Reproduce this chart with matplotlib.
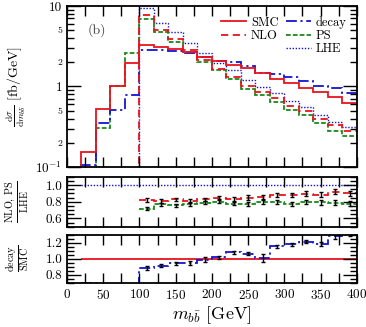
import numpy as np
import matplotlib
matplotlib.use("Agg")
import matplotlib.pyplot as plt
from matplotlib.ticker import MultipleLocator, FixedLocator, FixedFormatter, NullFormatter
from matplotlib.lines import Line2D

plt.rcParams['font.family'] = 'serif'
plt.rcParams['font.serif'] = ['cmr10', 'DejaVu Serif']
plt.rcParams['mathtext.fontset'] = 'cm'
plt.rcParams['axes.formatter.use_mathtext'] = True
plt.rcParams['axes.unicode_minus'] = False

# 20 GeV bins in m_bb
edges = np.arange(0, 401, 20)
smc = [0, 0.154, 0.53, 1.0, 1.97, 3.25, 3.1, 2.9, 2.7, 2.35, 2.05, 1.85, 1.68, 1.47, 1.25, 1.1, 0.97, 0.86, 0.74, 0.63]
decay = [0, 0.107, 0.353, 0.51, 0.78, 2.88, 2.84, 2.73, 2.57, 2.33, 2.09, 2.0, 1.79, 1.48, 1.45, 1.30, 1.18, 1.02, 0.95, 0.83]
nlo = [0, 0, 0, 0, 0, 7.8, 5.02, 3.90, 2.84, 2.13, 1.67, 1.33, 1.02, 0.85, 0.72, 0.58, 0.50, 0.39, 0.33, 0.28]
ps = [0, 0, 0.306, 1.0, 2.58, 6.8, 4.77, 3.55, 2.71, 2.03, 1.58, 1.24, 0.93, 0.79, 0.65, 0.51, 0.445, 0.35, 0.284, 0.24]
lhe = [0, 0, 0, 0, 0, 9.5, 6.2, 4.7, 3.5, 2.57, 1.97, 1.6, 1.2, 0.99, 0.82, 0.66, 0.56, 0.44, 0.36, 0.31]

# statistical errors on the ratios, bins from 100 GeV up
err_nlo = [0.02, 0.02, 0.02, 0.025, 0.02, 0.02, 0.025, 0.025, 0.025, 0.025, 0.025, 0.03, 0.03, 0.03, 0.03]
err_ps = [0.015, 0.02, 0.02, 0.025, 0.02, 0.02, 0.02, 0.025, 0.025, 0.025, 0.025, 0.025, 0.03, 0.03, 0.03]
err_decay = [0.03, 0.02, 0.025, 0.025, 0.035, 0.02, 0.02, 0.02, 0.05, 0.02, 0.02, 0.02, 0.025, 0.03, 0.03]

smc = np.array(smc); decay = np.array(decay); nlo = np.array(nlo)
ps = np.array(ps); lhe = np.array(lhe)
centers = 0.5 * (edges[:-1] + edges[1:])
i100 = 5  # first bin above 100 GeV

RED = '#e8141c'
BLUE = '#1414d2'
GREEN = '#1a8a1a'

sty = {
    'smc': dict(color=RED, lw=1.3, ls='-'),
    'nlo': dict(color=RED, lw=1.3, ls=(0, (4, 2.5))),
    'decay': dict(color=BLUE, lw=1.3, ls=(0, (6, 2, 1.2, 2))),
    'ps': dict(color=GREEN, lw=1.3, ls=(0, (2.6, 1.2))),
    'lhe': dict(color=BLUE, lw=1.0, ls=(0, (1, 1.2))),
}


def pos(v):
    # empty bins are pushed far below the axis range
    return np.where(v > 0, v, 1e-5)


fig = plt.figure(figsize=(3.66, 3.27), dpi=100)
L, W = 0.183, 0.792
ax1 = fig.add_axes([L, 0.4893, W, 0.4924])
ax2 = fig.add_axes([L, 0.3067, W, 0.1529])
ax3 = fig.add_axes([L, 0.1355, W, 0.1459])

# main panel
ax1.set_yscale('log')
ax1.stairs(pos(lhe), edges, baseline=None, **sty['lhe'])
ax1.stairs(pos(ps), edges, baseline=None, **sty['ps'])
ax1.stairs(pos(decay), edges, baseline=None, **sty['decay'])
ax1.stairs(pos(smc), edges, baseline=None, **sty['smc'])
ax1.stairs(pos(nlo), edges, baseline=None, **sty['nlo'])
ax1.set_ylim(0.1, 10)
ax1.set_xlim(0, 400)

ax1.yaxis.set_major_locator(FixedLocator([0.1, 1, 10]))
ax1.yaxis.set_major_formatter(FixedFormatter([r'$10^{-1}$', '1', '10']))
ax1.yaxis.set_minor_locator(FixedLocator([0.2, 0.3, 0.4, 0.5, 0.6, 0.7, 0.8, 0.9,
                                          2, 3, 4, 5, 6, 7, 8, 9]))
ax1.yaxis.set_minor_formatter(FixedFormatter(['2', '', '', '5', '', '', '', '',
                                              '2', '', '', '5', '', '', '', '']))
ax1.set_ylabel(r'$\frac{\mathrm{d}\sigma}{\mathrm{d}m_{b\bar{b}}}$ [fb/GeV]', fontsize=10)
ax1.yaxis.set_label_coords(-0.135, 0.5)
ax1.text(0.07, 0.83, '(b)', transform=ax1.transAxes, fontsize=10, color='#444444')

blank = Line2D([], [], alpha=0)
handles = [Line2D([], [], **sty['smc']), Line2D([], [], **sty['nlo']), blank,
           Line2D([], [], **sty['decay']), Line2D([], [], **sty['ps']), Line2D([], [], **sty['lhe'])]
labels = ['SMC', 'NLO', '', 'decay', 'PS', 'LHE']
ax1.legend(handles, labels, ncol=2, loc='upper right', frameon=False, fontsize=9,
           handlelength=2.0, handletextpad=0.4, columnspacing=0.6, labelspacing=0.1,
           borderaxespad=0.4)

# NLO, PS over LHE
ax2.stairs(np.ones(len(edges) - 2), edges[1:], baseline=None, **sty['lhe'])
r_nlo = nlo[i100:] / lhe[i100:]
r_ps = ps[i100:] / lhe[i100:]
ax2.stairs(r_nlo, edges[i100:], baseline=None, **sty['nlo'])
ax2.stairs(r_ps, edges[i100:], baseline=None, **sty['ps'])
ax2.errorbar(centers[i100:], r_nlo, yerr=err_nlo, fmt='none', ecolor='k', elinewidth=1, capsize=1.5, capthick=1)
ax2.errorbar(centers[i100:], r_ps, yerr=err_ps, fmt='none', ecolor='k', elinewidth=1, capsize=1.5, capthick=1)
ax2.set_ylim(0.5, 1.1)
ax2.yaxis.set_major_locator(FixedLocator([0.6, 0.8, 1.0]))
ax2.yaxis.set_major_formatter(FixedFormatter(['0.6', '0.8', '1.0']))
ax2.yaxis.set_minor_locator(MultipleLocator(0.05))
ax2.set_ylabel(r'$\frac{\mathrm{NLO,\,PS}}{\mathrm{LHE}}$', fontsize=10.5)
ax2.yaxis.set_label_coords(-0.125, 0.5)

# decay over SMC
r_dec = np.where(smc[1:] > 0, decay[1:] / np.where(smc[1:] > 0, smc[1:], 1), 0)
ax3.stairs(np.ones(len(edges) - 2), edges[1:], baseline=None, **sty['smc'])
ax3.stairs(r_dec, edges[1:], baseline=None, **sty['decay'])
ax3.errorbar(centers[i100:], r_dec[i100 - 1:], yerr=err_decay, fmt='none', ecolor='k',
             elinewidth=1, capsize=1.5, capthick=1)
ax3.set_ylim(0.7, 1.3)
ax3.yaxis.set_major_locator(FixedLocator([0.8, 1.0, 1.2]))
ax3.yaxis.set_major_formatter(FixedFormatter(['0.8', '1.0', '1.2']))
ax3.yaxis.set_minor_locator(MultipleLocator(0.05))
ax3.set_ylabel(r'$\frac{\mathrm{decay}}{\mathrm{SMC}}$', fontsize=10.5)
ax3.yaxis.set_label_coords(-0.125, 0.5)
ax3.set_xlabel(r'$m_{b\bar{b}}$ [GeV]', fontsize=13, labelpad=2)

for ax in (ax1, ax2, ax3):
    ax.set_xlim(0, 400)
    ax.xaxis.set_major_locator(MultipleLocator(50))
    ax.xaxis.set_minor_locator(MultipleLocator(25))
    ax.tick_params(which='both', direction='in', top=True, right=True, width=1.0, labelsize=9.5)
    ax.tick_params(axis='x', which='both', length=7)
    ax.tick_params(axis='y', which='major', length=10)
    ax.tick_params(axis='y', which='minor', length=5)
    for s in ax.spines.values():
        s.set_linewidth(1.3)
    if ax is not ax3:
        ax.xaxis.set_major_formatter(NullFormatter())

ax1.tick_params(axis='y', which='minor', labelsize=7)

fig.savefig('out.png', dpi=100)
